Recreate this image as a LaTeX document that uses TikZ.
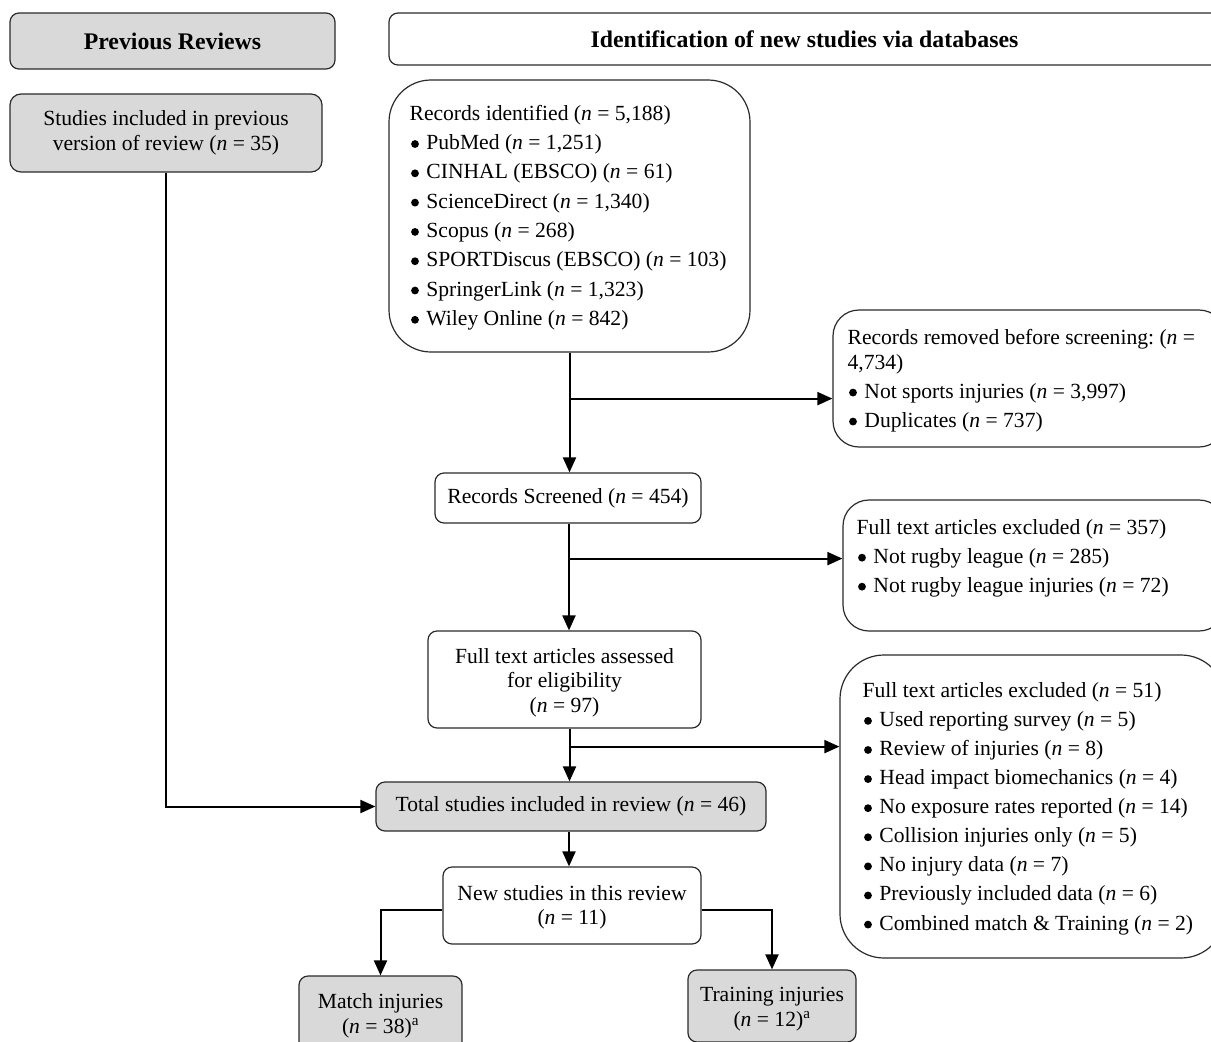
\documentclass[tikz,border=0pt]{standalone}
\usepackage{fontspec}
\setmainfont{Liberation Serif}
\usetikzlibrary{arrows.meta,calc}
\definecolor{boxgray}{HTML}{D9D9D9}
\definecolor{edgecol}{HTML}{2B2B2B}
\newcommand\nn{\textit{n}}
\newcommand\myfs{\fontsize{21.6}{24.5}\selectfont\frenchspacing}
\newcommand\hdfs{\fontsize{23.8}{26}\selectfont\bfseries}
\newcommand\blt{\hspace*{1.5pt}\raisebox{1.6pt}{\tikz\fill (0,0) circle (3.9pt);}\hspace{7.5pt}}
\tikzset{
  box/.style={draw=edgecol, line width=1.2pt, rounded corners=9pt, fill=white,
    align=center, inner sep=0pt, font=\myfs},
  graybox/.style={box, fill=boxgray},
  arr/.style={line width=2pt, -{Triangle[length=15pt,width=13pt]}},
  listtxt/.style={align=left, inner sep=0pt, anchor=west, font=\myfs},
  ctxt/.style={align=center, inner sep=0pt, font=\myfs}
}
\begin{document}
\begin{tikzpicture}[x=1pt,y=-1pt]
\useasboundingbox (0,0) rectangle (1211,1042);
\clip (0,0) rectangle (1211,1042);
\fill[white] (0,0) rectangle (1211,1042);

% headers
\node[graybox, minimum width=325pt, minimum height=56pt, font=\hdfs] (prev) at (172.5,41) {Previous Reviews};
\node[box, minimum width=831pt, minimum height=52pt, font=\hdfs] (ident) at (804.5,39) {Identification of new studies via databases};

% left column
\node[graybox, rounded corners=11pt, minimum width=312pt, minimum height=78pt] (prevst) at (166,133)
  {Studies included in previous\\version of review (\nn{} = 35)};

% records identified
\node[box, rounded corners=42pt, minimum width=361pt, minimum height=272pt] (rid) at (569.5,216) {};
\node[listtxt] (ridt) at ([xshift=21pt,yshift=-1.5pt]rid.west)
 {Records identified (\nn{} = 5,188)\\[4.8pt]
  \blt PubMed (\nn{} = 1,251)\\[4.8pt]
  \blt CINHAL (EBSCO) (\nn{} = 61)\\[4.8pt]
  \blt ScienceDirect (\nn{} = 1,340)\\[4.8pt]
  \blt Scopus (\nn{} = 268)\\[4.8pt]
  \blt SPORTDiscus (EBSCO) (\nn{} = 103)\\[4.8pt]
  \blt SpringerLink (\nn{} = 1,323)\\[4.8pt]
  \blt Wiley Online (\nn{} = 842)};

% records removed
\node[box, rounded corners=26pt, minimum width=392pt, minimum height=137pt] (rem) at (1029,378.5) {};
\node[listtxt] (remt) at ([xshift=15pt,yshift=-2pt]rem.west)
 {Records removed before screening: (\nn{} =\\
  4,734)\\[4.5pt]
  \blt Not sports injuries (\nn{} = 3,997)\\[4.5pt]
  \blt Duplicates (\nn{} = 737)};

% screened
\node[box, minimum width=266pt, minimum height=50pt] (scr) at (568,498) {Records Screened (\nn{} = 454)};

% excluded 1
\node[box, rounded corners=26pt, minimum width=382pt, minimum height=131pt] (ex1) at (1034,565.5) {};
\node[listtxt] (ex1t) at ([xshift=14pt,yshift=7.5pt]ex1.west)
 {Full text articles excluded (\nn{} = 357)\\[4.5pt]
  \blt Not rugby league (\nn{} = 285)\\[4.5pt]
  \blt Not rugby league injuries (\nn{} = 72)};

% assessed
\node[box, minimum width=273pt, minimum height=97pt] (ass) at (564.5,679.5) {};
\node[ctxt] (asst) at ([yshift=-3pt]ass.center)
 {Full text articles assessed\\for eligibility\\(\nn{} = 97)};

% excluded 2
\node[box, rounded corners=44pt, minimum width=385pt, minimum height=303pt] (ex2) at (1032.5,806.5) {};
\node[listtxt] (ex2t) at ([xshift=23pt,yshift=-2pt]ex2.west)
 {Full text articles excluded (\nn{} = 51)\\[4.6pt]
  \blt Used reporting survey (\nn{} = 5)\\[4.6pt]
  \blt Review of injuries (\nn{} = 8)\\[4.6pt]
  \blt Head impact biomechanics (\nn{} = 4)\\[4.6pt]
  \blt No exposure rates reported (\nn{} = 14)\\[4.6pt]
  \blt Collision injuries only (\nn{} = 5)\\[4.6pt]
  \blt No injury data (\nn{} = 7)\\[4.6pt]
  \blt Previously included data (\nn{} = 6)\\[4.6pt]
  \blt Combined match \& Training (\nn{} = 2)};

% total
\node[graybox, minimum width=390pt, minimum height=49pt] (total) at (571,806.5) {Total studies included in review (\nn{} = 46)};

% new studies
\node[box, minimum width=258pt, minimum height=77pt] (new) at (572,905.5) {};
\node[ctxt] (newt) at ([yshift=-2pt]new.center) {New studies in this review\\(\nn{} = 11)};

% bottom
\node[graybox, minimum width=163pt, minimum height=78pt] (match) at (380.5,1015) {};
\node[ctxt] (matcht) at ([yshift=-1pt]match.center) {Match injuries\\(\nn{} = 38)\textsuperscript{a}};
\node[graybox, minimum width=168pt, minimum height=72pt] (train) at (772,1006) {};
\node[ctxt] (traint) at ([yshift=-3pt]train.center) {Training injuries\\(\nn{} = 12)\textsuperscript{a}};

% connectors
\draw[arr] (rid.south) -- (rid.south |- scr.north);
\coordinate (b1) at ($(rid.south)+(0,46)$);
\draw[arr] (b1) -- (b1 -| rem.west);

\draw[arr] ([xshift=1pt]scr.south) -- ([xshift=1pt]scr.south |- ass.north);
\coordinate (b2) at ($([xshift=1pt]scr.south)+(0,35)$);
\draw[arr] (b2) -- (b2 -| ex1.west);

\draw[arr] ([xshift=5pt]ass.south) -- ([xshift=5pt]ass.south |- total.north);
\coordinate (b3) at ($([xshift=5pt]ass.south)+(0,18)$);
\draw[arr] (b3) -- (b3 -| ex2.west);

\draw[arr] (prevst.south) -- (prevst.south |- total.west) -- (total.west);

\draw[arr] ([xshift=-2pt]total.south) -- ([xshift=-2pt]total.south |- new.north);

\draw[arr] ([yshift=-4.5pt]new.west) -| (match.north);
\draw[arr] ([yshift=-4.5pt]new.east) -| (train.north);
\end{tikzpicture}
\end{document}
